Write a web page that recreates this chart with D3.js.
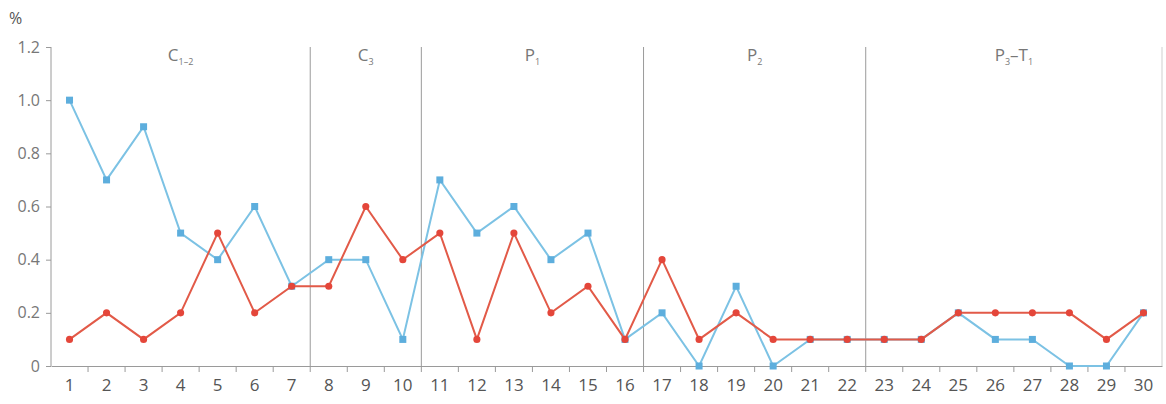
<!DOCTYPE html>
<html>
<head>
<meta charset="utf-8">
<script src="https://cdn.jsdelivr.net/npm/d3@7"></script>
<style>
  body { margin: 0; background: #fff; }
  svg text { font-family: "Open Sans", "DejaVu Sans", sans-serif; }
</style>
</head>
<body>
<div id="chart"></div>
<script>
// data
var samples = d3.range(1, 31);
var blueValues = [1.0, 0.7, 0.9, 0.5, 0.4, 0.6, 0.3, 0.4, 0.4, 0.1,
                  0.7, 0.5, 0.6, 0.4, 0.5, 0.1, 0.2, 0.0, 0.3, 0.0,
                  0.1, 0.1, 0.1, 0.1, 0.2, 0.1, 0.1, 0.0, 0.0, 0.2];
var redValues = [0.1, 0.2, 0.1, 0.2, 0.5, 0.2, 0.3, 0.3, 0.6, 0.4,
                 0.5, 0.1, 0.5, 0.2, 0.3, 0.1, 0.4, 0.1, 0.2, 0.1,
                 0.1, 0.1, 0.1, 0.1, 0.2, 0.2, 0.2, 0.2, 0.1, 0.2];
var yTicks = [0, 0.2, 0.4, 0.6, 0.8, 1.0, 1.2];
// periods: first and last sample of each, label base and subscript
var periods = [
  {base: "C", sub: "1–2", from: 1, to: 7},
  {base: "C", sub: "3", from: 8, to: 10},
  {base: "P", sub: "1", from: 11, to: 16},
  {base: "P", sub: "2", from: 17, to: 22},
  {base: "P", sub: "3", tail: "–T", tailSub: "1", from: 23, to: 30}
];

var margin = {top: 47, right: 4, bottom: 38, left: 51},
    width = 1166 - margin.left - margin.right,
    height = 404 - margin.top - margin.bottom;

var svg = d3.select("#chart").append("svg")
    .attr("width", width + margin.left + margin.right)
    .attr("height", height + margin.top + margin.bottom)
  .append("g")
    .attr("transform", "translate(" + margin.left + "," + margin.top + ")");

var x = d3.scaleBand().domain(samples).range([0, width]);
var y = d3.scaleLinear().domain([0, 1.2]).range([height, 0]);

var axisColor = "#9a9a9a";
var textColor = "#555";

// period separators
periods.forEach(function(p, i) {
  var x0 = x(p.to) + x.bandwidth();
  svg.append("line")
      .attr("x1", x0).attr("x2", x0)
      .attr("y1", 0).attr("y2", height)
      .attr("stroke", i == periods.length - 1 ? "#cfcfcf" : "#9a9a9a")
      .attr("stroke-width", 1);

  var cx = (x(p.from) + x(p.to) + x.bandwidth()) / 2;
  var t = svg.append("text")
      .attr("x", cx)
      .attr("y", 14)
      .attr("text-anchor", "middle")
      .attr("fill", "#777")
      .attr("font-size", "17px");
  t.append("tspan").text(p.base);
  t.append("tspan").attr("font-size", "9px").attr("dy", 4).text(p.sub);
  if (p.tail) {
    t.append("tspan").attr("dy", -4).text(p.tail);
    t.append("tspan").attr("font-size", "9px").attr("dy", 4).text(p.tailSub);
  }
});

// X axis
var xAxis = svg.append("g")
    .attr("transform", "translate(0," + height + ")")
    .call(d3.axisBottom(x).tickSize(0).tickPadding(13));
xAxis.select(".domain").attr("stroke", axisColor);
xAxis.selectAll("text").attr("fill", textColor).attr("font-size", "17px");
// tick marks between categories
xAxis.selectAll(".sep")
    .data(samples.slice(0, -1))
  .enter().append("line")
    .attr("x1", function(d) { return x(d) + x.bandwidth(); })
    .attr("x2", function(d) { return x(d) + x.bandwidth(); })
    .attr("y1", 0).attr("y2", 6)
    .attr("stroke", axisColor);

// Y axis
var yAxis = svg.append("g")
    .call(d3.axisLeft(y).tickValues(yTicks).tickSize(5).tickPadding(6)
      .tickFormat(function(d) { return d == 0 ? "0" : d3.format(".1f")(d); }));
yAxis.select(".domain").attr("stroke", axisColor).attr("d", "M0,0V" + height);
yAxis.selectAll(".tick line").attr("stroke", axisColor);
yAxis.selectAll("text").attr("fill", "#777").attr("font-size", "16px");

svg.append("text")
    .attr("x", -42)
    .attr("y", -23)
    .attr("fill", textColor)
    .attr("font-size", "16px")
    .text("%");

var cxOf = function(d, i) { return x(samples[i]) + x.bandwidth() / 2; };

// blue series
var seriesLine = d3.line().x(function(d, i) { return cxOf(d, i); }).y(function(d) { return y(d); });
svg.append("path")
    .datum(blueValues)
    .attr("fill", "none")
    .attr("stroke", "#7cc2e4")
    .attr("stroke-width", 2)
    .attr("d", seriesLine);
svg.selectAll(".bdot")
    .data(blueValues)
  .enter().append("rect")
    .attr("x", function(d, i) { return cxOf(d, i) - 3.5; })
    .attr("y", function(d) { return y(d) - 3.5; })
    .attr("width", 7).attr("height", 7)
    .attr("fill", "#5daedd");

// red series
svg.append("path")
    .datum(redValues)
    .attr("fill", "none")
    .attr("stroke", "#e25a48")
    .attr("stroke-width", 2)
    .attr("d", seriesLine);
svg.selectAll(".rdot")
    .data(redValues)
  .enter().append("path")
    .attr("transform", function(d, i) { return "translate(" + cxOf(d, i) + "," + y(d) + ")"; })
    .attr("d", d3.symbol().type(d3.symbolCircle).size(40))
    .attr("fill", "#e4463a");
</script>
</body>
</html>
